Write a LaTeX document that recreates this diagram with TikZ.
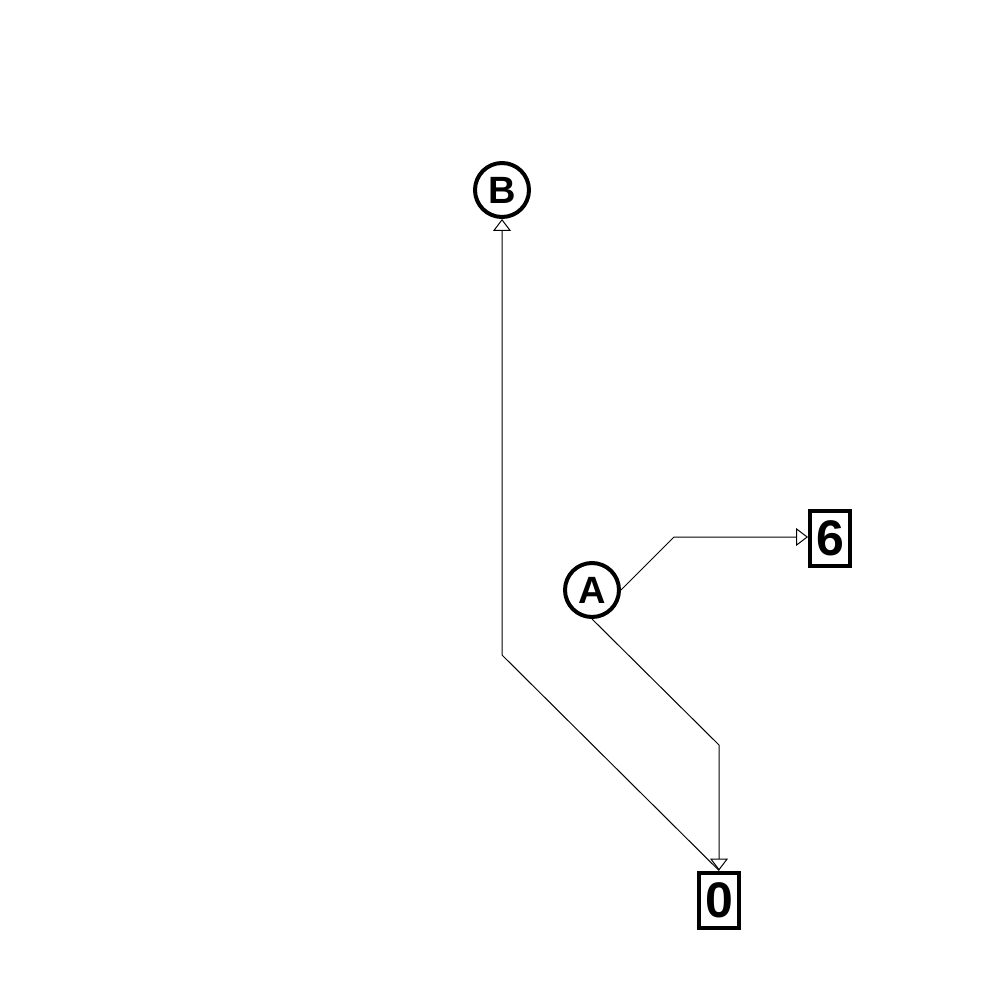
\documentclass[tikz,border=0pt]{standalone}
\usepackage{fontspec}
\setmainfont{Liberation Sans}
\usetikzlibrary{arrows.meta}
\begin{document}
\begin{tikzpicture}[x=0.5pt,y=-0.5pt,
  circ/.style={circle,draw,line width=2pt,minimum size=27pt,inner sep=0pt,font=\fontsize{19}{19}\selectfont\bfseries},
  numbox/.style={rectangle,draw,line width=2pt,minimum width=20pt,minimum height=27.5pt,inner sep=0pt,font=\fontsize{25}{25}\selectfont\bfseries},
  edge/.style={line width=0.5pt,-{Triangle[open,length=6pt,width=9pt]}}]
\useasboundingbox (0,0) rectangle (1000,1000);
\node[circ] (B) at (502,190) {B};
\node[circ] (A) at (592,590) {A};
\node[numbox] (six) at (830,538) {6};
\node[numbox] (zero) at (719,900) {0};
\coordinate (b1) at (502,655);
\coordinate (a1) at (719,745);
\coordinate (a2) at (674,537);
\draw[edge] (zero.north) -- (b1) -- (B.south);
\draw[edge] (A.south) -- (a1) -- (zero.north);
\draw[edge] (A.east) -- (a2) -- (a2 -| six.west);
\end{tikzpicture}
\end{document}
